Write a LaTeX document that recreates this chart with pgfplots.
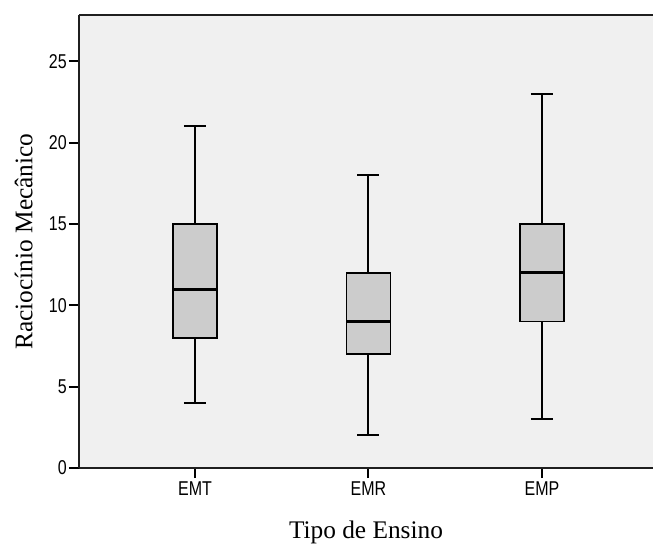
\documentclass[border=0pt]{standalone}
\usepackage{pgfplots}
\pgfplotsset{compat=1.18}
\usepgfplotslibrary{statistics}
\usepackage{fontspec}
\setmainfont{Liberation Serif}
\newfontfamily\tickfont[FakeStretch=0.8]{Liberation Sans}
\definecolor{bgc}{HTML}{F0F0F0}
\definecolor{boxc}{HTML}{CCCCCC}
\begin{document}
\begin{tikzpicture}
\useasboundingbox (0,0) rectangle (489.75pt,409.5pt);
\begin{axis}[
  at={(59.25pt,58.5pt)}, anchor=south west,
  scale only axis, width=430.5pt, height=339.75pt,
  xmin=0.3314, xmax=3.64, ymin=0, ymax=27.85,
  axis background/.style={fill=bgc},
  axis x line*=box, axis y line*=left,
  axis line style={line width=1.5pt, color=black!88},
  tick align=outside, xtick pos=bottom, ytick pos=left,
  major tick length=7.5pt,
  tick style={line width=1.5pt, color=black},
  xtick={1,2,3}, xticklabels={EMT,EMR,EMP},
  ytick={0,5,10,15,20,25},
  /pgf/number format/assume math mode=true,
  ticklabel style={font=\tickfont\fontsize{15}{17}\selectfont},
  yticklabel style={inner sep=1.5pt},
  xticklabel style={yshift=1pt},
  xlabel={Tipo de Ensino}, ylabel={Raciocínio Mecânico},
  every axis x label/.style={at={(rel axis cs:0.5,0)}, anchor=base, yshift=-52.5pt, font=\fontsize{19}{22}\selectfont},
  every axis y label/.style={at={(rel axis cs:0,0.5)}, anchor=center, rotate=90, yshift=41.5pt, font=\fontsize{19}{22}\selectfont},
  boxplot/draw direction=y,
  boxplot/box extend=0.254,
  boxplot/whisker extend=0.127,
  boxplot/every box/.style={draw=black, line width=1.1pt, fill=boxc},
  boxplot/every whisker/.style={draw=black, line width=1.5pt},
  boxplot/every median/.style={draw=black, line width=2.3pt},
]
\addplot+[boxplot prepared={draw position=1, lower whisker=4, lower quartile=8, median=11, upper quartile=15, upper whisker=21}, mark=none, black, solid] coordinates {};
\addplot+[boxplot prepared={draw position=2, lower whisker=2, lower quartile=7, median=9, upper quartile=12, upper whisker=18}, mark=none, black, solid] coordinates {};
\addplot+[boxplot prepared={draw position=3, lower whisker=3, lower quartile=9, median=12, upper quartile=15, upper whisker=23}, mark=none, black, solid] coordinates {};
\end{axis}
\end{tikzpicture}
\end{document}
